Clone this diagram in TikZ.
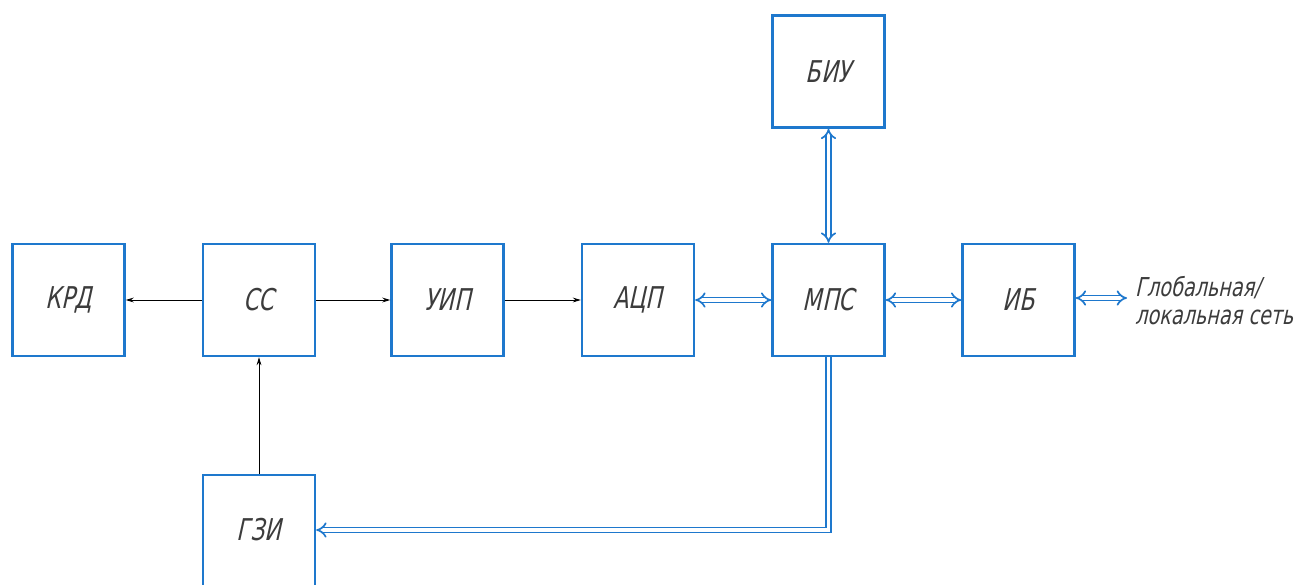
\documentclass[tikz,border=0pt]{standalone}
\usepackage{fontspec}
\newfontfamily\gost{DejaVu Sans}[FakeSlant=0.22,FakeStretch=0.74]
\usetikzlibrary{arrows.meta}
\definecolor{boxblue}{RGB}{30,120,205}
\definecolor{txt}{RGB}{60,60,60}
\tikzset{
  blk/.style={draw=boxblue, line width=1.2pt, minimum width=56pt, minimum height=56pt,
    inner sep=0pt, font=\gost\fontsize{15}{17}\selectfont, text=txt},
  sig/.style={draw=black, line width=0.5pt, -{Stealth[length=4pt,width=2.4pt]}},
  bus/.style={draw=boxblue, double=white, line width=0.85pt, double distance=1.7pt,
    {Implies[]}-{Implies[]}},
  busone/.style={draw=boxblue, double=white, line width=0.85pt, double distance=1.7pt,
    -{Implies[]}},
}
\begin{document}
\begin{tikzpicture}[x=0.5pt,y=-0.5pt]
\clip (0,0) rectangle (1309,584);
\fill[white] (0,0) rectangle (1309,584);
\node[blk] (krd) at (68.5,300) {КРД};
\node[blk] (ss) at (259,300) {СС};
\node[blk] (uip) at (447.5,300) {УИП};
\node[blk] (acp) at (638,300) {АЦП};
\node[blk] (mps) at (828.5,300) {МПС};
\node[blk] (ib) at (1018.5,300) {ИБ};
\node[blk] (biu) at (828.5,71.5) {БИУ};
\node[blk, minimum height=130pt, anchor=north] (gzi) at (259,474) {};
\node[font=\gost\fontsize{15}{17}\selectfont, text=txt] (gzit) at (259,530) {ГЗИ};
\coordinate (ext) at (1127,298);
\node[anchor=west, align=left, font=\gost\fontsize{13}{14}\selectfont, text=txt] (net) at (1128,301) {Глобальная/\\локальная сеть};
\coordinate (corner) at (828.5,530);

\draw[sig] (ss.west) -- (krd.east);
\draw[sig] (ss.east) -- (uip.west);
\draw[sig] (uip.east) -- (acp.west);
\draw[sig] (gzi.north) -- (ss.south);
\draw[bus] (acp.east) -- (mps.west);
\draw[bus] (mps.east) -- (ib.west);
\draw[bus] (biu.south) -- (mps.north);
\draw[bus] (ib.east |- ext) -- (ext);
\draw[busone] (mps.south) -- (corner) -- (gzi.east |- corner);
\end{tikzpicture}
\end{document}
